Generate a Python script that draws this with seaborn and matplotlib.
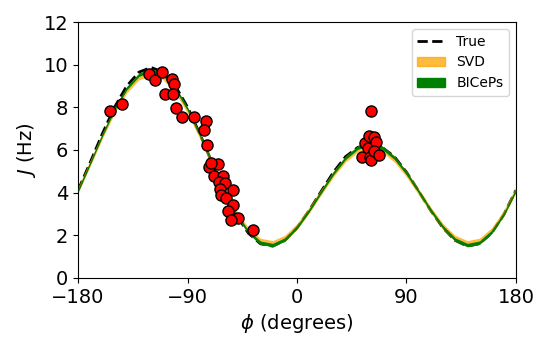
import numpy as np
import matplotlib
matplotlib.use('Agg')
import matplotlib.pyplot as plt
import seaborn as sns
import pandas as pd
from matplotlib.lines import Line2D
from matplotlib.patches import Patch

# --- curve values, every 10 degrees ---
phi_grid = list(range(-180, 181, 10))

j_true = [4.11, 5.42, 6.77, 8.01, 9.00, 9.65, 9.87, 9.65, 9.00, 8.01, 6.77, 5.42,
          4.11, 2.96, 2.10, 1.60, 1.49, 1.76, 2.35, 3.16, 4.07, 4.96, 5.69, 6.12,
          6.27, 6.12, 5.69, 4.96, 4.07, 3.16, 2.35, 1.76, 1.49, 1.60, 2.10, 2.96, 4.11]

j_svd = [4.13, 5.39, 6.68, 7.86, 8.81, 9.43, 9.64, 9.43, 8.81, 7.86, 6.68, 5.39,
         4.13, 3.03, 2.21, 1.72, 1.61, 1.86, 2.41, 3.18, 4.04, 4.88, 5.58, 6.04,
         6.20, 6.04, 5.58, 4.88, 4.04, 3.18, 2.41, 1.86, 1.61, 1.72, 2.21, 3.03, 4.13]

j_biceps = [4.11, 5.40, 6.72, 7.93, 8.90, 9.53, 9.75, 9.53, 8.90, 7.93, 6.72, 5.40,
            4.11, 2.99, 2.15, 1.65, 1.54, 1.80, 2.38, 3.17, 4.06, 4.92, 5.64, 6.11,
            6.28, 6.11, 5.64, 4.92, 4.06, 3.17, 2.38, 1.80, 1.54, 1.65, 2.15, 2.99, 4.11]

svd_halfwidth = 0.14
biceps_halfwidth = 0.08

# --- experimental points (phi in degrees, J in Hz) ---
obs_phi = [-153.7, -143.6, -121.4, -116.7, -110.7, -102.8, -100.8, -108.4, -101.8,
           -99.5, -94.2, -84.3, -75.2, -76.1, -74.0, -72.1, -65.0, -70.5, -68.0,
           -60.7, -63.8, -59.5, -63.3, -52.4, -62.8, -58.0, -52.6, -56.6, -48.2,
           -54.3, -36.4,
           53.5, 55.9, 58.0, 59.4, 60.5, 60.3, 60.8, 63.3, 64.9, 63.5, 67.6]
obs_j = [7.84, 8.16, 9.56, 9.30, 9.65, 9.31, 9.09, 8.63, 8.63,
         7.96, 7.53, 7.53, 7.35, 6.92, 6.24, 5.22, 5.33, 5.40, 4.77,
         4.77, 4.50, 4.45, 4.18, 4.12, 3.87, 3.75, 3.42, 3.14, 2.82,
         2.72, 2.25,
         5.65, 6.35, 6.10, 6.66, 7.84, 5.69, 5.55, 6.63, 6.38, 5.95, 5.77]

curves = pd.DataFrame({'phi': phi_grid, 'true': j_true, 'svd': j_svd, 'biceps': j_biceps})
obs = pd.DataFrame({'phi': obs_phi, 'J': obs_j})

fig = plt.figure(figsize=(5.5, 3.5), dpi=100)
ax = fig.add_axes([0.142, 0.206, 0.796, 0.731])

sns.lineplot(data=curves, x='phi', y='true', ax=ax, color='black', lw=2,
             linestyle=(0, (3.7, 1.6)), zorder=1)
ax.fill_between(curves['phi'], curves['svd'] - svd_halfwidth, curves['svd'] + svd_halfwidth,
                color='orange', alpha=0.75, lw=0, zorder=2)
ax.fill_between(curves['phi'], curves['biceps'] - biceps_halfwidth,
                curves['biceps'] + biceps_halfwidth, color='green', lw=0, zorder=3)
sns.scatterplot(data=obs, x='phi', y='J', ax=ax, color='red', edgecolor='black',
                s=64, linewidth=1, zorder=5)

ax.set_xlim(-180, 180)
ax.set_ylim(0, 12)
ax.set_xticks([-180, -90, 0, 90, 180])
ax.set_yticks([0, 2, 4, 6, 8, 10, 12])
ax.tick_params(labelsize=14)
ax.set_xlabel(r'$\phi$ (degrees)', fontsize=14)
ax.set_ylabel(r'$J$ (Hz)', fontsize=14)

handles = [Line2D([0], [0], color='black', lw=2, linestyle=(0, (3.7, 1.6))),
           Patch(color='orange', alpha=0.75),
           Patch(color='green')]
ax.legend(handles, ['True', 'SVD', 'BICePs'], loc='upper right', fontsize=10)

fig.savefig('out.png', dpi=100)
